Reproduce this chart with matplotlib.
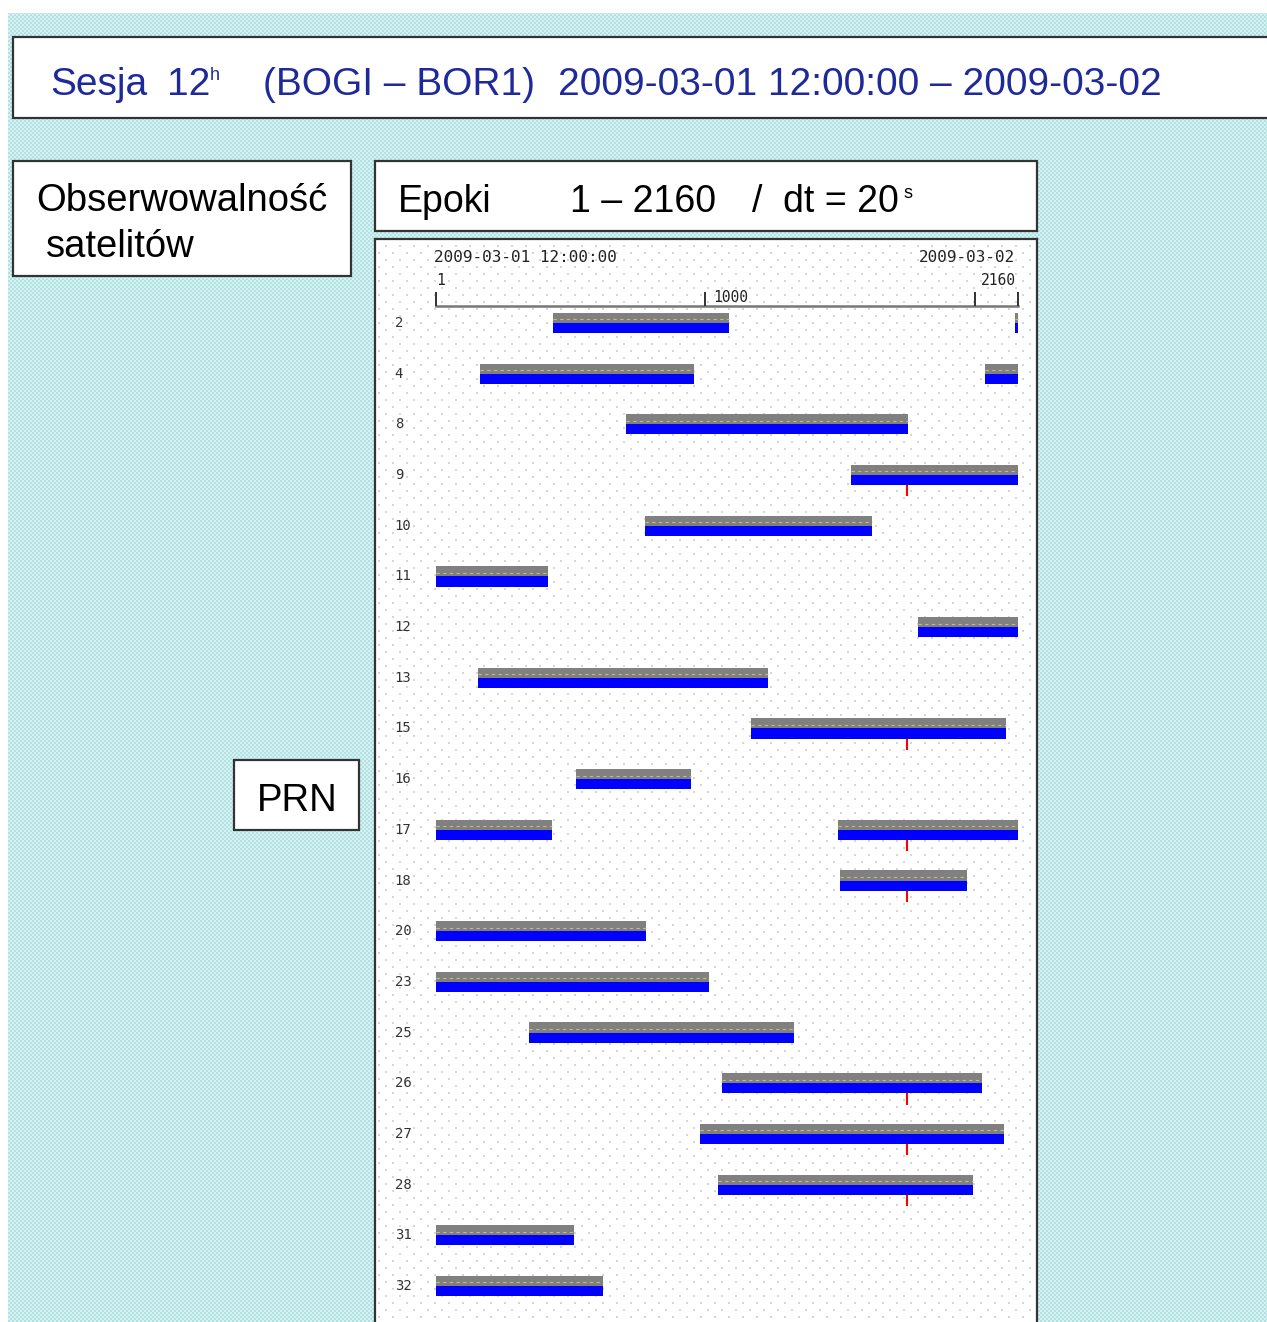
import numpy as np
import matplotlib.pyplot as plt
from matplotlib.patches import Rectangle

W, H = 1267, 1322

# ======================
# DATA
# ======================
prn = [2, 4, 8, 9, 10, 11, 12, 13, 15, 16, 17, 18, 20, 23, 25, 26, 27, 28, 31, 32]
# observed epoch arcs (start, end) per satellite
arcs = [
    [(435, 1088), (2149, 2160)],
    [(164, 958), (2037, 2160)],
    [(706, 1752)],
    [(1540, 2160)],
    [(776, 1618)],
    [(1, 416)],
    [(1789, 2160)],
    [(157, 1232)],
    [(1169, 2115)],
    [(520, 947)],
    [(1, 431), (1492, 2160)],
    [(1499, 1971)],
    [(1, 780)],
    [(1, 1014)],
    [(346, 1329)],
    [(1062, 2026)],
    [(980, 2108)],
    [(1047, 1993)],
    [(1, 513)],
    [(1, 620)],
]
slip_epoch = 1748
slip_prn = [9, 15, 17, 18, 26, 27, 28]
ruler_ticks = [1, 1000, 2000, 2160]
first_epoch, last_epoch = 1, 2160


def fx(x):
    return x / W


def fy(y):
    return 1 - y / H


# ======================
# BACKGROUND
# ======================
plt.rcParams['font.family'] = ['Liberation Sans', 'DejaVu Sans']
fig = plt.figure(figsize=(W / 100, H / 100), dpi=100)

yy, xx = np.mgrid[0:H, 0:W]
bg = np.ones((H, W, 3))
c1 = np.array([176, 226, 228]) / 255
c2 = np.array([216, 241, 241]) / 255
checker = ((xx // 2 + yy // 2) % 2 == 0)
cyan = np.where(checker[..., None], c1, c2)
cyan_area = (xx >= 8) & (yy >= 13)
bg[cyan_area] = cyan[cyan_area]
panel = (xx >= 376) & (xx < 1036) & (yy >= 240)
bg[panel] = 1
dots = panel & ((yy % 7) < 2) & (((xx + 7 * ((yy // 7) % 2)) % 14) < 2)
bg[dots] = 0.84
fig.figimage(bg, xo=0, yo=0, origin='upper', zorder=-10)


def box(x0, y0, x1, y1):
    fig.add_artist(Rectangle((fx(x0), fy(y1)), fx(x1 - x0), (y1 - y0) / H,
                             transform=fig.transFigure, facecolor='white',
                             edgecolor='#333333', linewidth=1.6, zorder=1))


# title box
box(13, 37, 1275, 118)
navy = '#1f2a9a'
fs_title = 28
fig.text(fx(50), fy(95), 'Sesja', fontsize=fs_title, color=navy)
fig.text(fx(167), fy(95), '12', fontsize=fs_title, color=navy)
fig.text(fx(210), fy(80), 'h', fontsize=13, color=navy)
fig.text(fx(263), fy(95), '(BOGI \u2013 BOR1)', fontsize=fs_title, color=navy)
fig.text(fx(558), fy(95), '2009-03-01 12:00:00 \u2013 2009-03-02', fontsize=fs_title, color=navy)

# left boxes
box(13, 161, 351, 276)
fig.text(fx(36), fy(211), 'Obserwowalno\u015b\u0107', fontsize=27.5, color='black')
fig.text(fx(46), fy(257), 'satelit\u00f3w', fontsize=27.5, color='black')

box(234, 760, 359, 830)
fig.text(fx(257), fy(811), 'PRN', fontsize=27.5, color='black')

# epochs box
box(375, 161, 1037, 231)
fig.text(fx(398), fy(212), 'Epoki', fontsize=27, color='black')
fig.text(fx(570), fy(212), '1 \u2013 2160', fontsize=27, color='black')
fig.text(fx(752), fy(212), '/', fontsize=27, color='black')
fig.text(fx(783), fy(212), 'dt = 20', fontsize=27, color='black')
fig.text(fx(903), fy(198), 's', fontsize=13, color='black')

# ======================
# PANEL
# ======================
ax = fig.add_axes([fx(375), 0, fx(1037 - 375), (H - 239) / H])
ax.set_facecolor('none')
ax.set_xlim(-225.3, 2230.2)
ax.set_ylim(19.71, -1.657)
ax.set_xticks([])
ax.set_yticks([])
for s in ['top', 'left', 'right']:
    ax.spines[s].set_color('#333333')
    ax.spines[s].set_linewidth(1.6)
ax.spines['bottom'].set_visible(False)

mono = 'DejaVu Sans Mono'
ax.text(first_epoch - 8, -1.283, '2009-03-01 12:00:00', fontsize=11.5, family=mono,
        color='#222222', ha='left', va='center')
ax.text(last_epoch - 10, -1.283, '2009-03-02', fontsize=11.5, family=mono,
        color='#222222', ha='right', va='center')
ax.text(first_epoch, -0.83, '1', fontsize=10.5, family=mono, color='#222222',
        ha='left', va='center')
ax.text(last_epoch - 10, -0.83, '2160', fontsize=10.5, family=mono, color='#222222',
        ha='right', va='center')
ax.text(1000 + 30, -0.36, '1000', fontsize=10.5, family=mono, color='#222222',
        ha='left', va='bottom')

# ruler
ax.plot([first_epoch, last_epoch], [-0.335, -0.335], color='#777777', lw=1.8)
ax.vlines(ruler_ticks, -0.62, -0.335, color='#222222', lw=1.3)

for i, (p, segs) in enumerate(zip(prn, arcs)):
    ax.text(-152, i, str(p), fontsize=10, family=mono, color='#333333',
            ha='left', va='center')
    for a, b in segs:
        ax.barh(i - 0.2, b - a, left=a, height=0.2, align='edge',
                color='#808080', edgecolor='none')
        ax.barh(i, b - a, left=a, height=0.2, align='edge',
                color='#0000ff', edgecolor='none')
        ax.plot([a, b], [i - 0.07, i - 0.07], color='#c8bd78', lw=0.8,
                dashes=(3, 3))
    if p in slip_prn:
        ax.vlines(slip_epoch, i + 0.2, i + 0.42, color='red', lw=1.5)

plt.savefig('out.png', dpi=100)
